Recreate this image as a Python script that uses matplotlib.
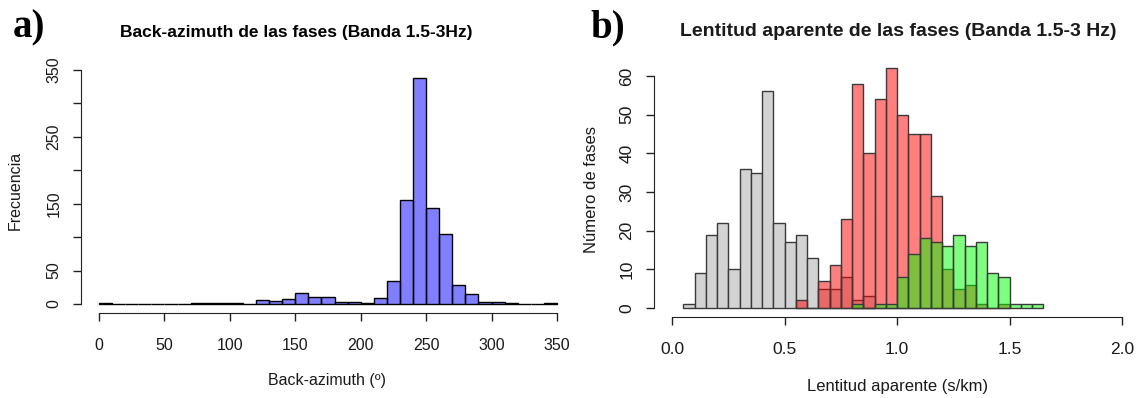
import numpy as np
import matplotlib
matplotlib.use("Agg")
import matplotlib.pyplot as plt

plt.rcParams['font.family'] = ['Liberation Sans', 'DejaVu Sans']

# Panel a: back-azimuth histogram (bins of 10 deg, 0-350)
baz_edges = np.arange(0, 351, 10)
baz_counts = [1, 0, 0, 0, 0, 0, 0, 1, 1, 1, 1, 0, 6, 4, 7, 16, 10, 10, 3, 3,
              1, 9, 34, 155, 338, 144, 104, 28, 15, 3, 3, 1, 0, 0, 1]

# Panel b: apparent slowness, bins of 0.05 s/km
gray_start = 0.05
gray_counts = [1, 9, 19, 22, 10, 36, 35, 56, 22, 17, 19, 13, 5, 5, 8, 2, 3]
red_start = 0.55
red_counts = [2, 0, 7, 11, 23, 58, 40, 54, 62, 50, 45, 45, 29, 10, 5, 6, 1, 0, 1]
green_start = 0.80
green_counts = [1, 0, 1, 1, 8, 14, 18, 17, 16, 19, 16, 17, 9, 8, 1, 1, 1]
bw = 0.05

txt = '#1a1a1a'

fig = plt.figure(figsize=(11.4, 3.98), dpi=100)

#%% panel a
ax1 = fig.add_axes([80.7/1140, 1-313.4/398, 494.6/1140, 252.8/398])
ax1.bar(baz_edges[:-1], baz_counts, width=10, align='edge',
        color=(0, 0, 1, 0.5), edgecolor='black', linewidth=1)
ax1.set_xlim(-14, 364)
ax1.set_ylim(-14, 364)
ax1.set_xticks(np.arange(0, 351, 50))
ax1.set_yticks(np.arange(0, 351, 50))
ax1.set_yticklabels(['0', '50', '', '150', '', '250', '', '350'],
                    rotation=90, va='center')
ax1.spines['left'].set_bounds(0, 350)
ax1.spines['bottom'].set_bounds(0, 350)

#%% panel b
ax2 = fig.add_axes([654/1140, 1-317.3/398, 486/1140, 250.6/398])
for start, counts, col in [(gray_start, gray_counts, '#d3d3d3'),
                           (red_start, red_counts, (1, 0, 0, 0.5)),
                           (green_start, green_counts, (0, 1, 0, 0.5))]:
    left = start + bw*np.arange(len(counts))
    ax2.bar(left, counts, width=bw, align='edge', color=col,
            edgecolor='#3a3a3a', linewidth=1)
ax2.set_xlim(-0.08, 2.08)
ax2.set_ylim(-2.4, 62.4)
ax2.set_xticks([0, 0.5, 1.0, 1.5, 2.0])
ax2.set_xticklabels(['0.0', '0.5', '1.0', '1.5', '2.0'])
ax2.set_yticks(np.arange(0, 61, 10))
ax2.set_yticklabels([str(v) for v in range(0, 61, 10)], rotation=90, va='center')
ax2.spines['left'].set_bounds(0, 60)
ax2.spines['bottom'].set_bounds(0, 2.0)

for ax, fs in [(ax1, 11.5), (ax2, 12.5)]:
    for s in ['top', 'right']:
        ax.spines[s].set_visible(False)
    for s in ['left', 'bottom']:
        ax.spines[s].set_color('#222222')
    ax.tick_params(direction='out', length=6, width=1, color='#222222',
                   labelsize=fs, labelcolor=txt)
    ax.tick_params(axis='x', pad=12)
    ax.tick_params(axis='y', pad=8)

# labels placed in figure pixels
def ftext(x, y, s, **kw):
    fig.text(x/1140, 1-y/398, s, **kw)

ftext(29, 28, 'a)', family='Liberation Serif', weight='bold', fontsize=28,
      ha='center', va='center')
ftext(296, 32, 'Back-azimuth de las fases (Banda 1.5-3Hz)', weight='bold',
      fontsize=12.5, ha='center', va='center')
ftext(15, 190, 'Frecuencia', rotation=90, fontsize=11.5, color=txt,
      ha='center', va='center')
ftext(327, 381, 'Back-azimuth (º)', fontsize=11.5, color=txt, ha='center', va='center')

ftext(608, 28, 'b)', family='Liberation Serif', weight='bold', fontsize=28,
      ha='center', va='center')
ftext(898, 32, 'Lentitud aparente de las fases (Banda 1.5-3 Hz)', weight='bold',
      fontsize=14, color=txt, ha='center', va='center')
ftext(592, 190, 'Número de fases', rotation=90, fontsize=12, color=txt,
      ha='center', va='center')
ftext(898, 387, 'Lentitud aparente (s/km)', fontsize=12, color=txt,
      ha='center', va='center')

fig.savefig('out.png', dpi=100)
